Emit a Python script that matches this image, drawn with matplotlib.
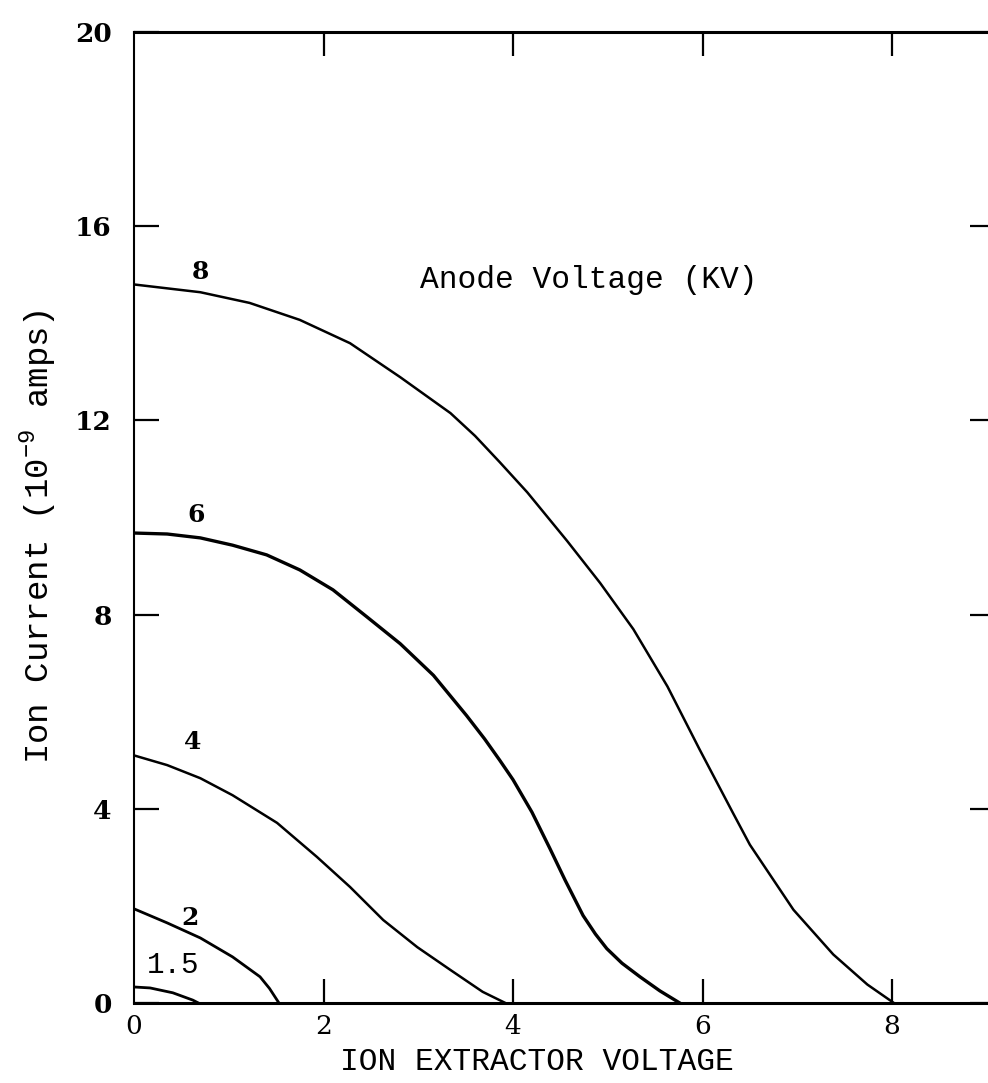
import numpy as np
import matplotlib
matplotlib.use('Agg')
import matplotlib.pyplot as plt

# curvas (tensao do extrator, corrente de ions)
x8 = [0, 0.7, 1.22, 1.75, 2.28, 2.81, 3.34, 3.6, 3.86, 4.15, 4.57, 4.92, 5.27, 5.63, 5.97, 6.32, 6.5, 6.96, 7.38, 7.74, 8.02]
y8 = [14.8, 14.64, 14.42, 14.07, 13.59, 12.89, 12.15, 11.68, 11.14, 10.52, 9.52, 8.65, 7.7, 6.52, 5.22, 3.92, 3.26, 1.92, 1.0, 0.38, 0]

x6 = [0, 0.35, 0.7, 1.04, 1.4, 1.75, 2.1, 2.46, 2.81, 3.16, 3.51, 3.7, 3.86, 4.0, 4.2, 4.39, 4.55, 4.74, 4.87, 4.99, 5.15, 5.34, 5.55, 5.76]
y6 = [9.68, 9.66, 9.58, 9.43, 9.23, 8.92, 8.51, 7.95, 7.4, 6.75, 5.92, 5.44, 5.0, 4.6, 3.93, 3.18, 2.53, 1.8, 1.42, 1.12, 0.82, 0.54, 0.25, 0]

x4 = [0, 0.35, 0.7, 1.04, 1.51, 1.93, 2.28, 2.63, 2.99, 3.34, 3.68, 3.92]
y4 = [5.1, 4.9, 4.63, 4.28, 3.71, 3.01, 2.39, 1.71, 1.15, 0.68, 0.23, 0]

x2 = [0, 0.35, 0.7, 1.04, 1.33, 1.43, 1.53]
y2 = [1.94, 1.65, 1.34, 0.95, 0.54, 0.3, 0]

x15 = [0, 0.17, 0.41, 0.62, 0.68]
y15 = [0.33, 0.31, 0.21, 0.06, 0]

rotulos = ['8', '6', '4', '2', '1.5']
rot_x = [0.70, 0.65, 0.62, 0.59, 0.41]
rot_y = [15.05, 10.05, 5.38, 1.75, 0.78]

xticks = [0, 2, 4, 6, 8]
yticks = [0, 4, 8, 12, 16, 20]

serif = 'DejaVu Serif'
mono = 'Liberation Mono'

fig = plt.figure(figsize=(9.88, 10.83), dpi=100, facecolor='white')
ax = fig.add_axes([134/988, 80/1083, 861/988, 971/1083])

ax.plot(x8, y8, color='black', lw=1.8)
ax.plot(x6, y6, color='black', lw=2.4)
ax.plot(x4, y4, color='black', lw=1.8)
ax.plot(x2, y2, color='black', lw=2.0)
ax.plot(x15, y15, color='black', lw=2.0)

for t, tx, ty in zip(rotulos, rot_x, rot_y):
    if t == '1.5':
        ax.text(tx, ty, t, family=mono, fontsize=21, ha='center', va='center')
    else:
        ax.text(tx, ty, t, family=serif, fontsize=18, ha='center', va='center', fontweight='bold')

ax.text(3.02, 14.9, 'Anode Voltage (KV)', family=mono, fontsize=22.5, ha='left', va='center')

ax.set_xlim(0, 861/94.75)
ax.set_ylim(0, 20)
ax.set_xticks(xticks)
ax.set_yticks(yticks)
ax.set_xticklabels([str(v) for v in xticks], family=serif, fontsize=19)
ax.set_yticklabels([str(v) for v in yticks], family=serif, fontsize=19, fontweight='bold')

ax.tick_params(axis='x', direction='in', length=17, width=1.6, top=True, pad=8)
ax.tick_params(axis='y', direction='in', length=18, width=1.6, right=True, pad=16)
ax.xaxis.get_major_ticks()[0].tick1line.set_visible(False)
ax.xaxis.get_major_ticks()[0].tick2line.set_visible(False)

ax.spines['left'].set_linewidth(1.5)
ax.spines['bottom'].set_linewidth(2.2)
ax.spines['top'].set_linewidth(2.2)
ax.spines['right'].set_linewidth(1.5)

fig.text(537/988, 1 - 1062/1083, 'ION EXTRACTOR VOLTAGE', family=mono, fontsize=22.5,
         ha='center', va='center')
fig.text(38/988, 1 - 537/1083, r'Ion Current (10$^{\mathregular{-9}}$ amps)', family=mono,
         fontsize=24.5, ha='center', va='center', rotation=90)

fig.savefig('out.png', dpi=100, facecolor='white')
